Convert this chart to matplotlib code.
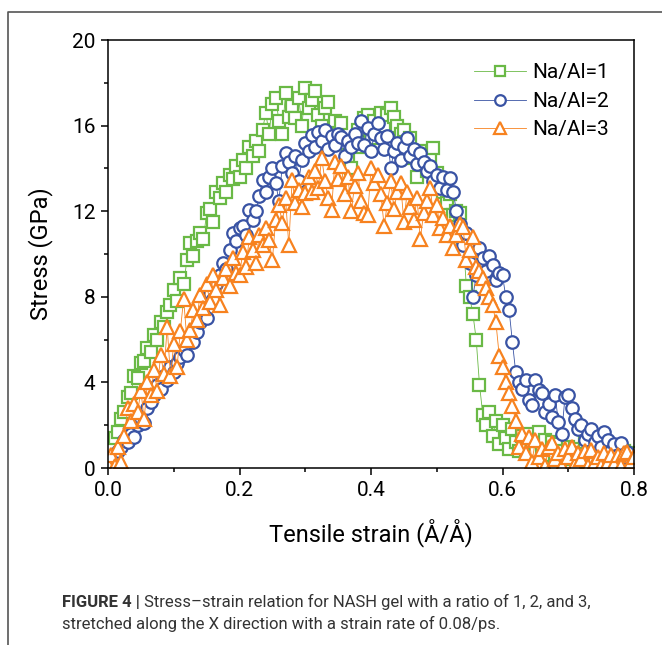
import numpy as np
import matplotlib
matplotlib.use("Agg")
import matplotlib.pyplot as plt
from matplotlib.lines import Line2D
from matplotlib import font_manager

# strain grid (constant strain rate, one sample every 0.005)
strain = np.round(np.arange(161) * 0.005, 3)

# stress values (GPa)
stress_na1 = [
    0.3, 0.9, 1.4, 1.7, 2.3, 2.6, 3.3, 3.5, 4.3, 4.2,
    4.9, 5.0, 5.6, 5.4, 6.2, 6.0, 6.8, 6.6, 7.3, 7.6,
    8.3, 7.8, 8.9, 8.6, 9.7, 10.5, 9.9, 10.6, 11.0, 10.7,
    11.9, 12.1, 11.5, 12.9, 12.6, 13.3, 12.9, 13.7, 13.5, 14.1,
    13.6, 14.4, 14.0, 15.0, 14.6, 15.3, 14.8, 15.8, 16.6, 15.6,
    17.0, 17.3, 16.2, 15.6, 17.5, 16.4, 16.9, 16.35, 17.3, 16.0,
    17.75, 16.8, 17.2, 17.6, 16.5, 16.0, 16.8, 17.1, 15.6, 16.2,
    15.4, 16.1, 15.2, 14.6, 14.0, 15.3, 15.8, 15.0, 16.35, 16.5,
    15.4, 16.2, 15.8, 16.6, 16.0, 16.5, 16.8, 16.4, 16.0, 15.6,
    15.8, 15.0, 15.4, 14.5, 13.6, 14.8, 14.2, 13.9, 14.5, 14.95,
    13.8, 13.2, 12.9, 12.4, 12.8, 11.8, 12.0, 11.9, 10.8, 8.5,
    8.0, 7.2, 6.0, 3.9, 2.5, 2.0, 2.6, 1.5, 2.2, 1.1,
    2.0, 1.4, 0.9, 1.8, 1.2, 0.8, 1.5, 0.9, 1.6, 1.1,
    0.7, 1.7, 0.9, 1.3, 0.6, 1.2, 0.5, 1.1, 0.8, 0.4,
    1.0, 0.6, 0.9, 0.3, 0.7, 1.2, 0.5, 0.8, 0.4, 0.9,
    0.6, 1.0, 0.3, 0.7, 0.5, 0.9, 0.4, 0.8, 0.6, 0.3,
    0.7,
]
stress_na2 = [
    0.2, 0.4, 0.6, 0.8, 1.0, 1.3, 1.2, 1.6, 1.45, 2.0,
    2.3, 2.1, 2.8, 3.1, 3.4, 3.9, 3.7, 4.3, 4.1, 4.7,
    4.5, 4.9, 5.2, 5.5, 5.3, 6.0, 5.9, 6.35, 6.8, 7.2,
    7.0, 8.2, 7.9, 8.6, 9.0, 9.6, 9.3, 10.2, 11.0, 10.6,
    11.2, 11.3, 10.9, 12.05, 11.6, 12.0, 12.7, 13.45, 12.9, 13.6,
    14.0, 13.3, 12.5, 14.1, 14.7, 14.3, 13.8, 14.6, 13.4, 14.4,
    15.2, 14.8, 15.55, 15.0, 15.7, 15.3, 15.8, 14.9, 15.5, 15.1,
    15.6, 15.45, 14.6, 15.3, 15.0, 15.6, 15.2, 16.2, 15.1, 15.9,
    14.8, 15.6, 16.1, 15.4, 14.9, 15.5, 14.0, 14.8, 15.2, 14.4,
    15.0, 15.4, 14.6, 14.9, 14.2, 14.7, 14.3, 13.9, 14.1, 13.4,
    13.7, 13.1, 13.6, 13.0, 13.55, 12.9, 12.0, 11.4, 10.4, 11.0,
    9.6, 8.0, 9.0, 10.3, 9.8, 9.2, 9.9, 9.5, 8.8, 9.1,
    9.0, 8.0, 7.4, 5.9, 4.5, 4.0, 3.7, 4.1, 3.2, 2.95,
    4.1, 3.65, 3.5, 2.6, 3.0, 2.4, 3.4, 2.15, 1.6, 3.3,
    3.4, 2.8, 2.3, 1.8, 2.0, 1.3, 1.6, 1.8, 1.2, 1.5,
    1.0, 1.7, 1.3, 0.8, 1.1, 0.6, 1.15, 0.5, 0.75, 0.3,
    0.4,
]
stress_na3 = [
    0.2, 0.6, 0.1, 1.0, 0.3, 1.5, 2.8, 2.2, 3.0, 2.6,
    3.6, 2.3, 4.0, 3.4, 4.6, 3.6, 5.3, 4.4, 6.6, 4.3,
    5.8, 4.7, 6.4, 7.9, 6.0, 6.45, 7.4, 6.9, 8.1, 7.5,
    8.6, 7.75, 9.0, 8.3, 7.6, 8.9, 9.3, 8.5, 9.8, 9.1,
    9.0, 10.1, 9.4, 10.8, 10.2, 9.6, 10.9, 10.4, 11.2, 10.65,
    9.7, 11.6, 12.3, 11.45, 12.6, 10.4, 13.45, 12.4, 13.0, 12.2,
    12.85, 13.6, 12.9, 13.9, 13.1, 14.5, 13.4, 12.6, 12.05, 14.3,
    13.5, 14.1, 12.8, 13.6, 12.0, 13.2, 13.8, 12.5, 11.9, 11.8,
    14.0, 13.3, 13.7, 12.8, 11.3, 12.4, 13.4, 12.1, 12.9, 13.3,
    11.5, 12.9, 12.2, 11.6, 12.6, 10.7, 11.9, 12.5, 13.1, 11.8,
    12.3, 11.2, 11.7, 10.9, 11.3, 10.3, 10.9, 11.4, 11.25, 9.7,
    10.2, 10.8, 9.4, 9.2, 8.9, 8.4, 8.0, 7.6, 6.8, 5.25,
    4.7, 4.0, 3.5, 2.9, 2.2, 1.0, 1.6, 0.7, 1.45, 0.3,
    1.3, 0.5, 0.9, 0.1, 1.0, 1.15, 0.4, 0.7, 0.1, 0.9,
    0.5, 1.0, 0.2, 0.7, 0.4, 0.8, 0.1, 0.85, 0.3, 0.5,
    0.1, 0.7, 0.3, 0.6, 0.2, 0.6, 0.1, 0.7, 0.75, 0.3,
    0.5,
]

labels = ["Na/Al=1", "Na/Al=2", "Na/Al=3"]
colors = ["#6ab946", "#3953a4", "#f7821f"]
markers = ["s", "o", "^"]
msizes = [8.5, 9, 10.5]

installed = {f.name for f in font_manager.fontManager.ttflist}
cap_font = "Liberation Sans Narrow" if "Liberation Sans Narrow" in installed else "Roboto"
plt.rcParams["font.family"] = ["Roboto", "DejaVu Sans"]

fig = plt.figure(figsize=(6.62, 6.45), dpi=100)
ax = fig.add_axes([108 / 662, 1 - 468 / 645, 526 / 662, 428 / 645])

for y, c, m, ms, lab in zip([stress_na1, stress_na2, stress_na3], colors, markers, msizes, labels):
    ax.plot(strain, y, color=c, lw=0.6, marker=m, ms=ms, mfc="white",
            mec=c, mew=1.6, label=lab)

ax.set_xlim(0, 0.8)
ax.set_ylim(0, 20)
ax.set_xticks([0.0, 0.2, 0.4, 0.6, 0.8])
ax.set_xticklabels(["0.0", "0.2", "0.4", "0.6", "0.8"])
ax.set_xticks(np.arange(0.1, 0.8, 0.2), minor=True)
ax.set_yticks([0, 4, 8, 12, 16, 20])
ax.set_yticks([2, 6, 10, 14, 18], minor=True)
ax.tick_params(which="major", direction="out", length=5, width=1.1, labelsize=15, pad=4)
ax.tick_params(which="minor", direction="out", length=3, width=1.1)
for s in ax.spines.values():
    s.set_linewidth(1.1)

ax.set_xlabel("Tensile strain (Å/Å)", fontsize=17, labelpad=14)
ax.set_ylabel("Stress (GPa)", fontsize=17, labelpad=14)

ax.legend(loc="upper right", bbox_to_anchor=(0.96, 0.955), frameon=False,
          fontsize=15, handlelength=2.5, handletextpad=0.3, labelspacing=0.45,
          borderpad=0.2, borderaxespad=0, markerscale=0.85)

# figure frame (top and left rules)
fig.add_artist(Line2D([8 / 662, 8 / 662, 1], [0, 1 - 12 / 645, 1 - 12 / 645],
                      color="#555555", lw=1.2))

# caption
t1 = fig.text(62 / 662, 1 - 607 / 645, "FIGURE 4 |", fontsize=12, fontweight="bold",
              family=cap_font, color="#333333", va="baseline")
fig.text(62 / 662, 1 - 629 / 645, "stretched along the X direction with a strain rate of 0.08/ps.",
         fontsize=12, family=cap_font, color="#333333", va="baseline")
ax.annotate(" Stress–strain relation for NASH gel with a ratio of 1, 2, and 3,",
            xy=(1, 0), xycoords=t1, va="bottom", ha="left", fontsize=12,
            family=cap_font, color="#333333", annotation_clip=False)

fig.savefig("out.png", dpi=100)
